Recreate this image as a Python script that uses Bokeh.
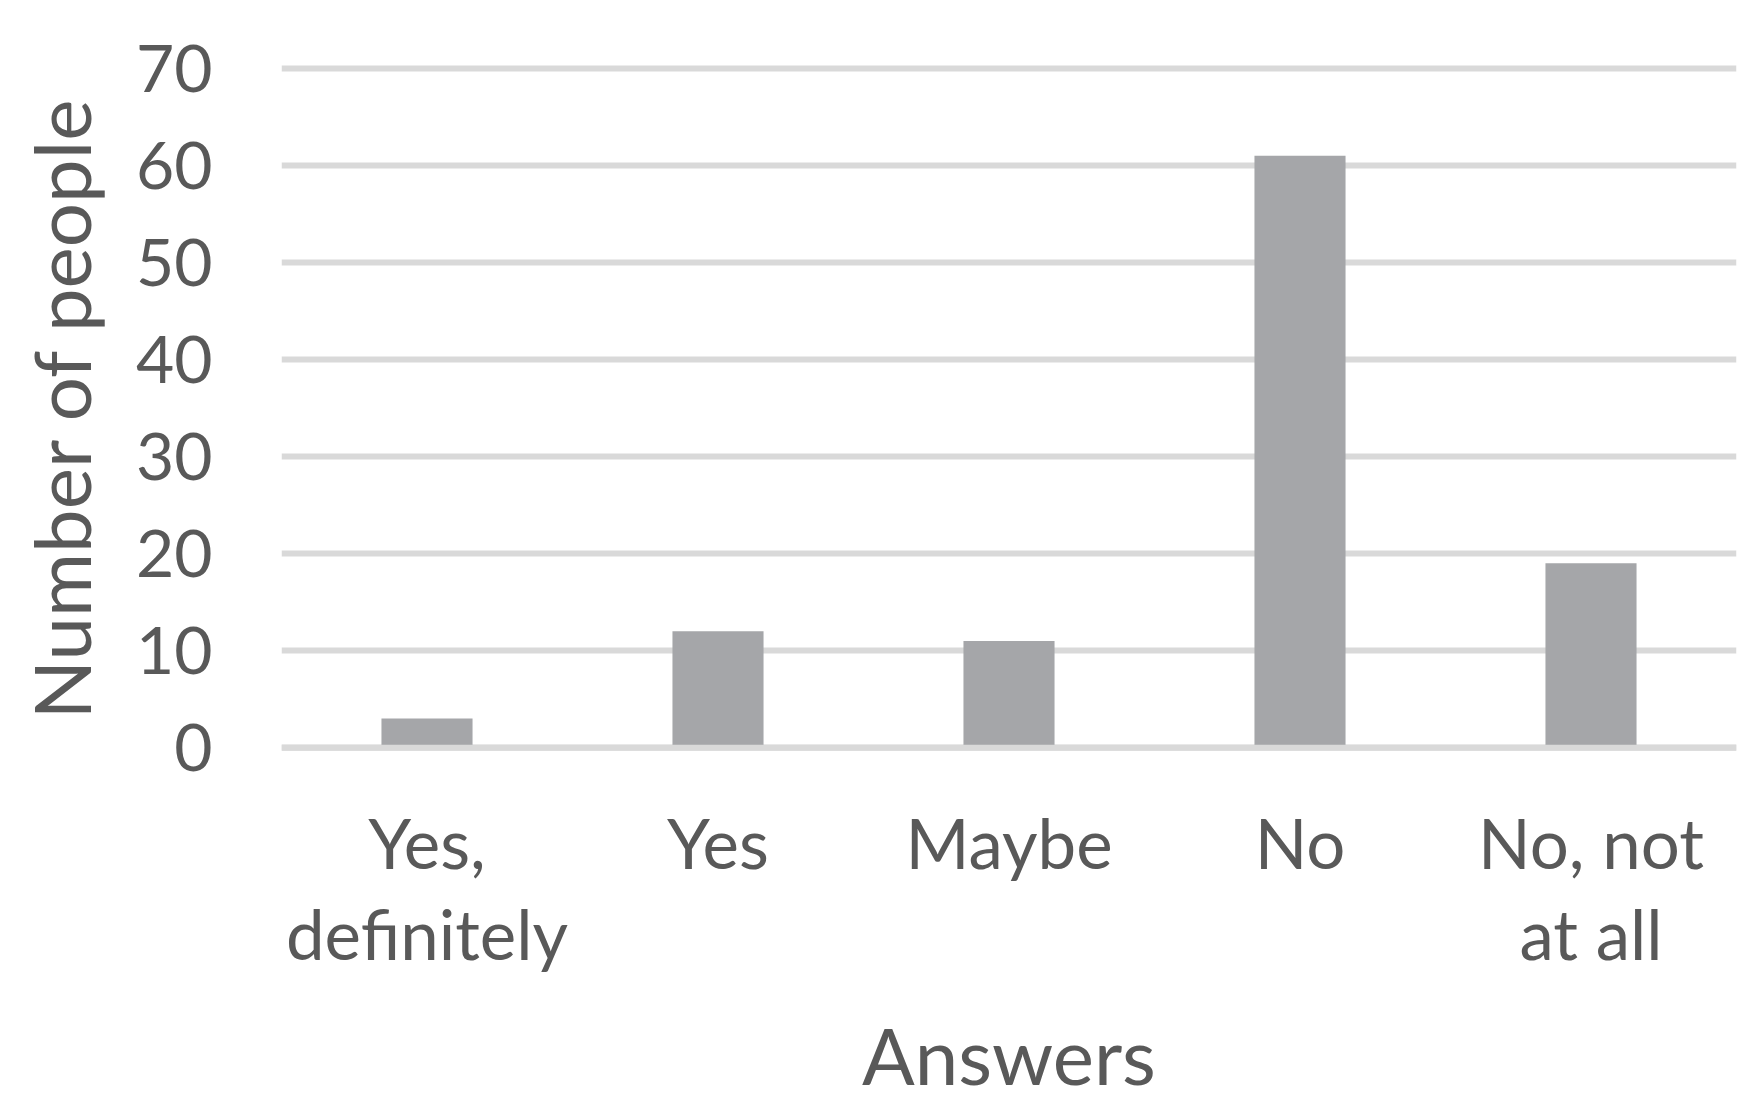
from bokeh.plotting import figure
from bokeh.models import Range1d, FactorRange, Span, FixedTicker, ColumnDataSource
from bokeh.embed import file_html
from bokeh.resources import INLINE

categories = ["Yes,\ndefinitely", "Yes", "Maybe", "No", "No, not\nat all"]
counts = [3, 12, 11, 61, 19]
y_ticks = [0, 10, 20, 30, 40, 50, 60, 70]

FONT = "Lato"
TEXT = "#595959"
BAR = "#A5A6A9"
GRID = "#D9D9D9"

src = ColumnDataSource(dict(cat=categories, n=counts))

p = figure(frame_width=1455, frame_height=689, output_backend="svg", toolbar_location=None,
           x_range=FactorRange(*categories, range_padding=0),
           y_range=Range1d(-0.5, 70.5))
p.min_border_left = 281
p.min_border_right = 11
p.min_border_top = 63
p.min_border_bottom = 330
p.outline_line_color = None
p.background_fill_color = "white"
p.border_fill_color = "white"

p.vbar(x="cat", top="n", bottom=0, width=0.313, source=src,
       fill_color=BAR, line_color=None)

p.add_layout(Span(location=0, dimension="width", line_color=GRID, line_width=6, level="overlay"))

p.xgrid.grid_line_color = None
p.ygrid.grid_line_color = GRID
p.ygrid.grid_line_width = 6
p.yaxis.ticker = FixedTicker(ticks=y_ticks)

for ax in (p.xaxis[0], p.yaxis[0]):
    ax.axis_line_color = None
    ax.major_tick_line_color = None
    ax.minor_tick_line_color = None
    ax.major_label_text_font = FONT
    ax.major_label_text_color = TEXT
    ax.major_label_text_font_size = "69px"
    ax.axis_label_text_font = FONT
    ax.axis_label_text_color = TEXT
    ax.axis_label_text_font_size = "78px"
    ax.axis_label_text_font_style = "normal"

p.yaxis.major_label_text_font_size = "66px"
p.yaxis.axis_label = "Number of people"
p.yaxis.major_label_standoff = 63
p.yaxis.axis_label_standoff = 25
p.xaxis.axis_label = "Answers"
p.xaxis.major_label_standoff = 42
p.xaxis.major_label_text_line_height = 1.1
p.xaxis.axis_label_standoff = 30

open("out.html", "w").write(file_html(p, INLINE))
